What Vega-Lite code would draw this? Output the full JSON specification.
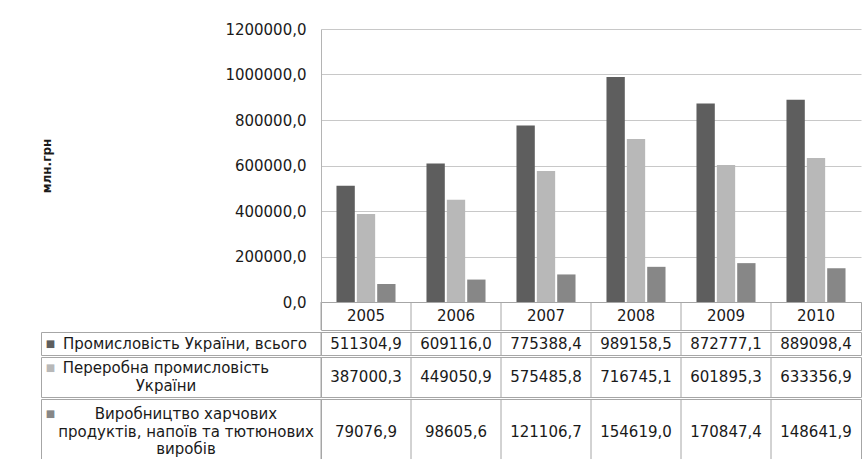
{
  "$schema": "https://vega.github.io/schema/vega-lite/v6.json",
  "padding": {"left": 40, "top": 22, "right": 0, "bottom": 0},
  "datasets": {
    "output": [
      {"year": "2005", "series": "Промисловість України, всього", "value": 511304.9},
      {"year": "2006", "series": "Промисловість України, всього", "value": 609116.0},
      {"year": "2007", "series": "Промисловість України, всього", "value": 775388.4},
      {"year": "2008", "series": "Промисловість України, всього", "value": 989158.5},
      {"year": "2009", "series": "Промисловість України, всього", "value": 872777.1},
      {"year": "2010", "series": "Промисловість України, всього", "value": 889098.4},
      {"year": "2005", "series": "Переробна промисловість України", "value": 387000.3},
      {"year": "2006", "series": "Переробна промисловість України", "value": 449050.9},
      {"year": "2007", "series": "Переробна промисловість України", "value": 575485.8},
      {"year": "2008", "series": "Переробна промисловість України", "value": 716745.1},
      {"year": "2009", "series": "Переробна промисловість України", "value": 601895.3},
      {"year": "2010", "series": "Переробна промисловість України", "value": 633356.9},
      {"year": "2005", "series": "Виробництво харчових продуктів, напоїв та тютюнових виробів", "value": 79076.9},
      {"year": "2006", "series": "Виробництво харчових продуктів, напоїв та тютюнових виробів", "value": 98605.6},
      {"year": "2007", "series": "Виробництво харчових продуктів, напоїв та тютюнових виробів", "value": 121106.7},
      {"year": "2008", "series": "Виробництво харчових продуктів, напоїв та тютюнових виробів", "value": 154619.0},
      {"year": "2009", "series": "Виробництво харчових продуктів, напоїв та тютюнових виробів", "value": 170847.4},
      {"year": "2010", "series": "Виробництво харчових продуктів, напоїв та тютюнових виробів", "value": 148641.9}
    ],
    "series": [
      {"series": "Промисловість України, всього", "label": "Промисловість України, всього"},
      {"series": "Переробна промисловість України", "label": "Переробна промисловість\nУкраїни"},
      {"series": "Виробництво харчових продуктів, напоїв та тютюнових виробів", "label": "Виробництво харчових\nпродуктів, напоїв та тютюнових\nвиробів"}
    ]
  },
  "spacing": 0,
  "vconcat": [
    {
      "bounds": "flush",
      "spacing": 0,
      "hconcat": [
        {
          "width": 280,
          "height": 301,
          "data": {"values": [{}]},
          "mark": {"type": "text"},
          "encoding": {"text": {"value": ""}}
        },
        {
          "bounds": "flush",
          "spacing": 0,
          "vconcat": [
            {
              "width": 540,
              "height": 273,
              "data": {"name": "output"},
              "mark": {"type": "bar"},
              "encoding": {
                "x": {
                  "field": "year",
                  "type": "nominal",
                  "axis": null,
                  "scale": {"paddingInner": 0.344, "paddingOuter": 0.172}
                },
                "xOffset": {
                  "field": "series",
                  "type": "nominal",
                  "scale": {
                    "domain": ["Промисловість України, всього", "Переробна промисловість України", "Виробництво харчових продуктів, напоїв та тютюнових виробів"],
                    "paddingInner": 0.1,
                    "paddingOuter": 0
                  }
                },
                "y": {
                  "field": "value",
                  "type": "quantitative",
                  "scale": {"domain": [0, 1200000], "nice": false},
                  "axis": {
                    "values": [0, 200000, 400000, 600000, 800000, 1000000, 1200000],
                    "format": ".1f",
                    "title": "млн.грн",
                    "titleX": -280,
                    "titleY": 136.5,
                    "titleAngle": -90,
                    "titleBaseline": "top",
                    "titleAlign": "center",
                    "titleFontSize": 12,
                    "titleFontWeight": "bold",
                    "ticks": false,
                    "labelPadding": 15,
                    "labelFontSize": 15,
                    "grid": true,
                    "gridColor": "#c8c8c8",
                    "domainColor": "#b4b4b4"
                  }
                },
                "color": {
                  "field": "series",
                  "type": "nominal",
                  "scale": {
                    "domain": ["Промисловість України, всього", "Переробна промисловість України", "Виробництво харчових продуктів, напоїв та тютюнових виробів"],
                    "range": ["#5e5e5e", "#b8b8b8", "#878787"]
                  },
                  "legend": null
                }
              }
            },
            {
              "width": 540,
              "height": 28,
              "view": {"stroke": "#a6a6a6"},
              "data": {"name": "output"},
              "transform": [{"aggregate": [{"op": "count", "as": "n"}], "groupby": ["year"]}],
              "encoding": {
                "x": {
                  "field": "year",
                  "type": "nominal",
                  "scale": {"paddingInner": 0, "paddingOuter": 0},
                  "axis": null
                }
              },
              "layer": [
                {
                  "mark": {"type": "rule", "color": "#a6a6a6"},
                  "encoding": {"x": {"field": "year", "type": "nominal", "bandPosition": 0}}
                },
                {
                  "mark": {"type": "text", "fontSize": 15, "color": "#1a1a1a"},
                  "encoding": {"text": {"field": "year"}}
                }
              ]
            }
          ]
        }
      ]
    },
    {
      "bounds": "flush",
      "spacing": 0,
      "hconcat": [
        {
          "width": 280,
          "height": 23,
          "view": {"stroke": "#a6a6a6"},
          "data": {"name": "series"},
          "transform": [{"filter": "datum.series == 'Промисловість України, всього'"}],
          "layer": [
            {
              "mark": {"type": "text", "text": "■", "fontSize": 10, "dx": -130.5, "dy": 0},
              "encoding": {
                "color": {
                  "field": "series",
                  "type": "nominal",
                  "scale": {
                    "domain": ["Промисловість України, всього", "Переробна промисловість України", "Виробництво харчових продуктів, напоїв та тютюнових виробів"],
                    "range": ["#5e5e5e", "#b8b8b8", "#878787"]
                  },
                  "legend": null
                }
              }
            },
            {
              "mark": {"type": "text", "fontSize": 15, "lineBreak": "\n", "lineHeight": 17.5, "dx": 4, "dy": 0, "color": "#1a1a1a"},
              "encoding": {"text": {"field": "label"}}
            }
          ]
        },
        {
          "width": 540,
          "height": 23,
          "view": {"stroke": "#a6a6a6"},
          "data": {"name": "output"},
          "transform": [{"filter": "datum.series == 'Промисловість України, всього'"}],
          "encoding": {
            "x": {
              "field": "year",
              "type": "nominal",
              "scale": {"paddingInner": 0, "paddingOuter": 0},
              "axis": null
            }
          },
          "layer": [
            {
              "mark": {"type": "rule", "color": "#a6a6a6"},
              "encoding": {"x": {"field": "year", "type": "nominal", "bandPosition": 0}}
            },
            {
              "mark": {"type": "text", "fontSize": 15, "color": "#1a1a1a"},
              "encoding": {"text": {"field": "value", "type": "quantitative", "format": ".1f"}}
            }
          ]
        }
      ]
    },
    {
      "bounds": "flush",
      "spacing": 0,
      "hconcat": [
        {
          "width": 280,
          "height": 40,
          "view": {"stroke": "#a6a6a6"},
          "data": {"name": "series"},
          "transform": [{"filter": "datum.series == 'Переробна промисловість України'"}],
          "layer": [
            {
              "mark": {"type": "text", "text": "■", "fontSize": 10, "dx": -130.5, "dy": -8.75},
              "encoding": {
                "color": {
                  "field": "series",
                  "type": "nominal",
                  "scale": {
                    "domain": ["Промисловість України, всього", "Переробна промисловість України", "Виробництво харчових продуктів, напоїв та тютюнових виробів"],
                    "range": ["#5e5e5e", "#b8b8b8", "#878787"]
                  },
                  "legend": null
                }
              }
            },
            {
              "mark": {"type": "text", "fontSize": 15, "lineBreak": "\n", "lineHeight": 17.5, "dx": -15, "dy": -8.75, "color": "#1a1a1a"},
              "encoding": {"text": {"field": "label"}}
            }
          ]
        },
        {
          "width": 540,
          "height": 40,
          "view": {"stroke": "#a6a6a6"},
          "data": {"name": "output"},
          "transform": [{"filter": "datum.series == 'Переробна промисловість України'"}],
          "encoding": {
            "x": {
              "field": "year",
              "type": "nominal",
              "scale": {"paddingInner": 0, "paddingOuter": 0},
              "axis": null
            }
          },
          "layer": [
            {
              "mark": {"type": "rule", "color": "#a6a6a6"},
              "encoding": {"x": {"field": "year", "type": "nominal", "bandPosition": 0}}
            },
            {
              "mark": {"type": "text", "fontSize": 15, "color": "#1a1a1a"},
              "encoding": {"text": {"field": "value", "type": "quantitative", "format": ".1f"}}
            }
          ]
        }
      ]
    },
    {
      "bounds": "flush",
      "spacing": 0,
      "hconcat": [
        {
          "width": 280,
          "height": 65,
          "view": {"stroke": "#a6a6a6"},
          "data": {"name": "series"},
          "transform": [{"filter": "datum.series == 'Виробництво харчових продуктів, напоїв та тютюнових виробів'"}],
          "layer": [
            {
              "mark": {"type": "text", "text": "■", "fontSize": 10, "dx": -130.5, "dy": -17.5},
              "encoding": {
                "color": {
                  "field": "series",
                  "type": "nominal",
                  "scale": {
                    "domain": ["Промисловість України, всього", "Переробна промисловість України", "Виробництво харчових продуктів, напоїв та тютюнових виробів"],
                    "range": ["#5e5e5e", "#b8b8b8", "#878787"]
                  },
                  "legend": null
                }
              }
            },
            {
              "mark": {"type": "text", "fontSize": 15, "lineBreak": "\n", "lineHeight": 17.5, "dx": 5, "dy": -17.5, "color": "#1a1a1a"},
              "encoding": {"text": {"field": "label"}}
            }
          ]
        },
        {
          "width": 540,
          "height": 65,
          "view": {"stroke": "#a6a6a6"},
          "data": {"name": "output"},
          "transform": [{"filter": "datum.series == 'Виробництво харчових продуктів, напоїв та тютюнових виробів'"}],
          "encoding": {
            "x": {
              "field": "year",
              "type": "nominal",
              "scale": {"paddingInner": 0, "paddingOuter": 0},
              "axis": null
            }
          },
          "layer": [
            {
              "mark": {"type": "rule", "color": "#a6a6a6"},
              "encoding": {"x": {"field": "year", "type": "nominal", "bandPosition": 0}}
            },
            {
              "mark": {"type": "text", "fontSize": 15, "color": "#1a1a1a"},
              "encoding": {"text": {"field": "value", "type": "quantitative", "format": ".1f"}}
            }
          ]
        }
      ]
    }
  ],
  "config": {
    "view": {"stroke": null},
    "font": "DejaVu Sans",
    "locale": {"number": {"decimal": ",", "thousands": " ", "grouping": [3], "currency": ["", ""]}},
    "axis": {"labelColor": "#1a1a1a", "titleColor": "#1a1a1a"}
  }
}
